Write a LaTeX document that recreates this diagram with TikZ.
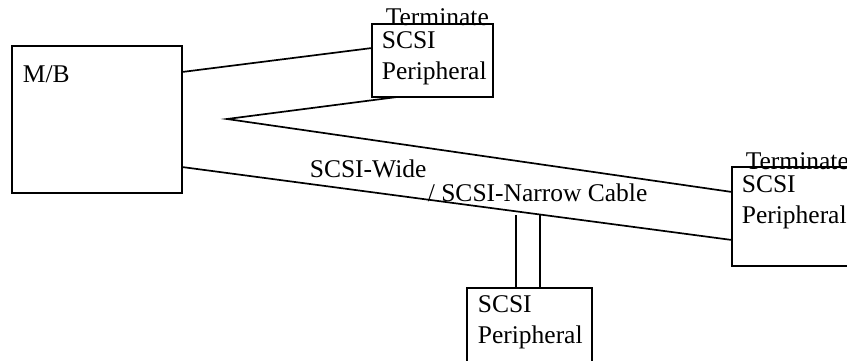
\documentclass[tikz,border=0pt]{standalone}
\usepackage{fontspec}
\setmainfont{Liberation Serif}
\usetikzlibrary{positioning}

\begin{document}
\begin{tikzpicture}
[-,x=1pt,y=-1pt,line width=1.7pt,%
  box/.style={draw,rectangle,inner sep=0pt,outer sep=0pt,anchor=north west},%
  lbl/.style={inner sep=0pt,anchor=base west,font=\fontsize{25.5}{31}\selectfont}]
\useasboundingbox (0,0) rectangle (847,360);
\clip (0,0) rectangle (847,360);
\node[box,minimum width=170pt,minimum height=147pt] (mb) at (12,46) {};
\node[box,minimum width=121pt,minimum height=73pt] (topper) at (372,24) {};
\node[box,minimum width=140pt,minimum height=99pt] (rightper) at (732,167) {};
\node[box,minimum width=125pt,minimum height=100pt] (botper) at (467,288) {};
\node[lbl] (mblbl) at (22,82) {M/B};
\node[lbl] (topterm) at (385,25) {Terminate};
\node[lbl] (topscsi) at (381,48) {SCSI};
\node[lbl] (topperi) at (381,79) {Peripheral};
\node[lbl] (rightterm) at (745,169) {Terminate};
\node[lbl] (rightscsi) at (741,192) {SCSI};
\node[lbl] (rightperi) at (741,223) {Peripheral};
\node[lbl] (botscsi) at (477,312) {SCSI};
\node[lbl] (botperi) at (477,343) {Peripheral};
\node[lbl] (wide) at (309,177) {SCSI-Wide};
\node[lbl] (narrow) at (427,201) {/ SCSI-Narrow Cable};
\coordinate (bend) at (227,119);
\coordinate (tapA) at (516,215);
\coordinate (tapB) at (540,215);
\draw (mb.east |- 0,72) -- (topper.west |- 0,48);
\draw (topper.south west) ++(25,0) -- (bend) -- (rightper.west |- 0,192);
\draw (mb.east |- 0,167) -- (rightper.west |- 0,240);
\draw (tapA) -- (tapA |- botper.north);
\draw (tapB) -- (tapB |- botper.north);
\end{tikzpicture}
\end{document}
